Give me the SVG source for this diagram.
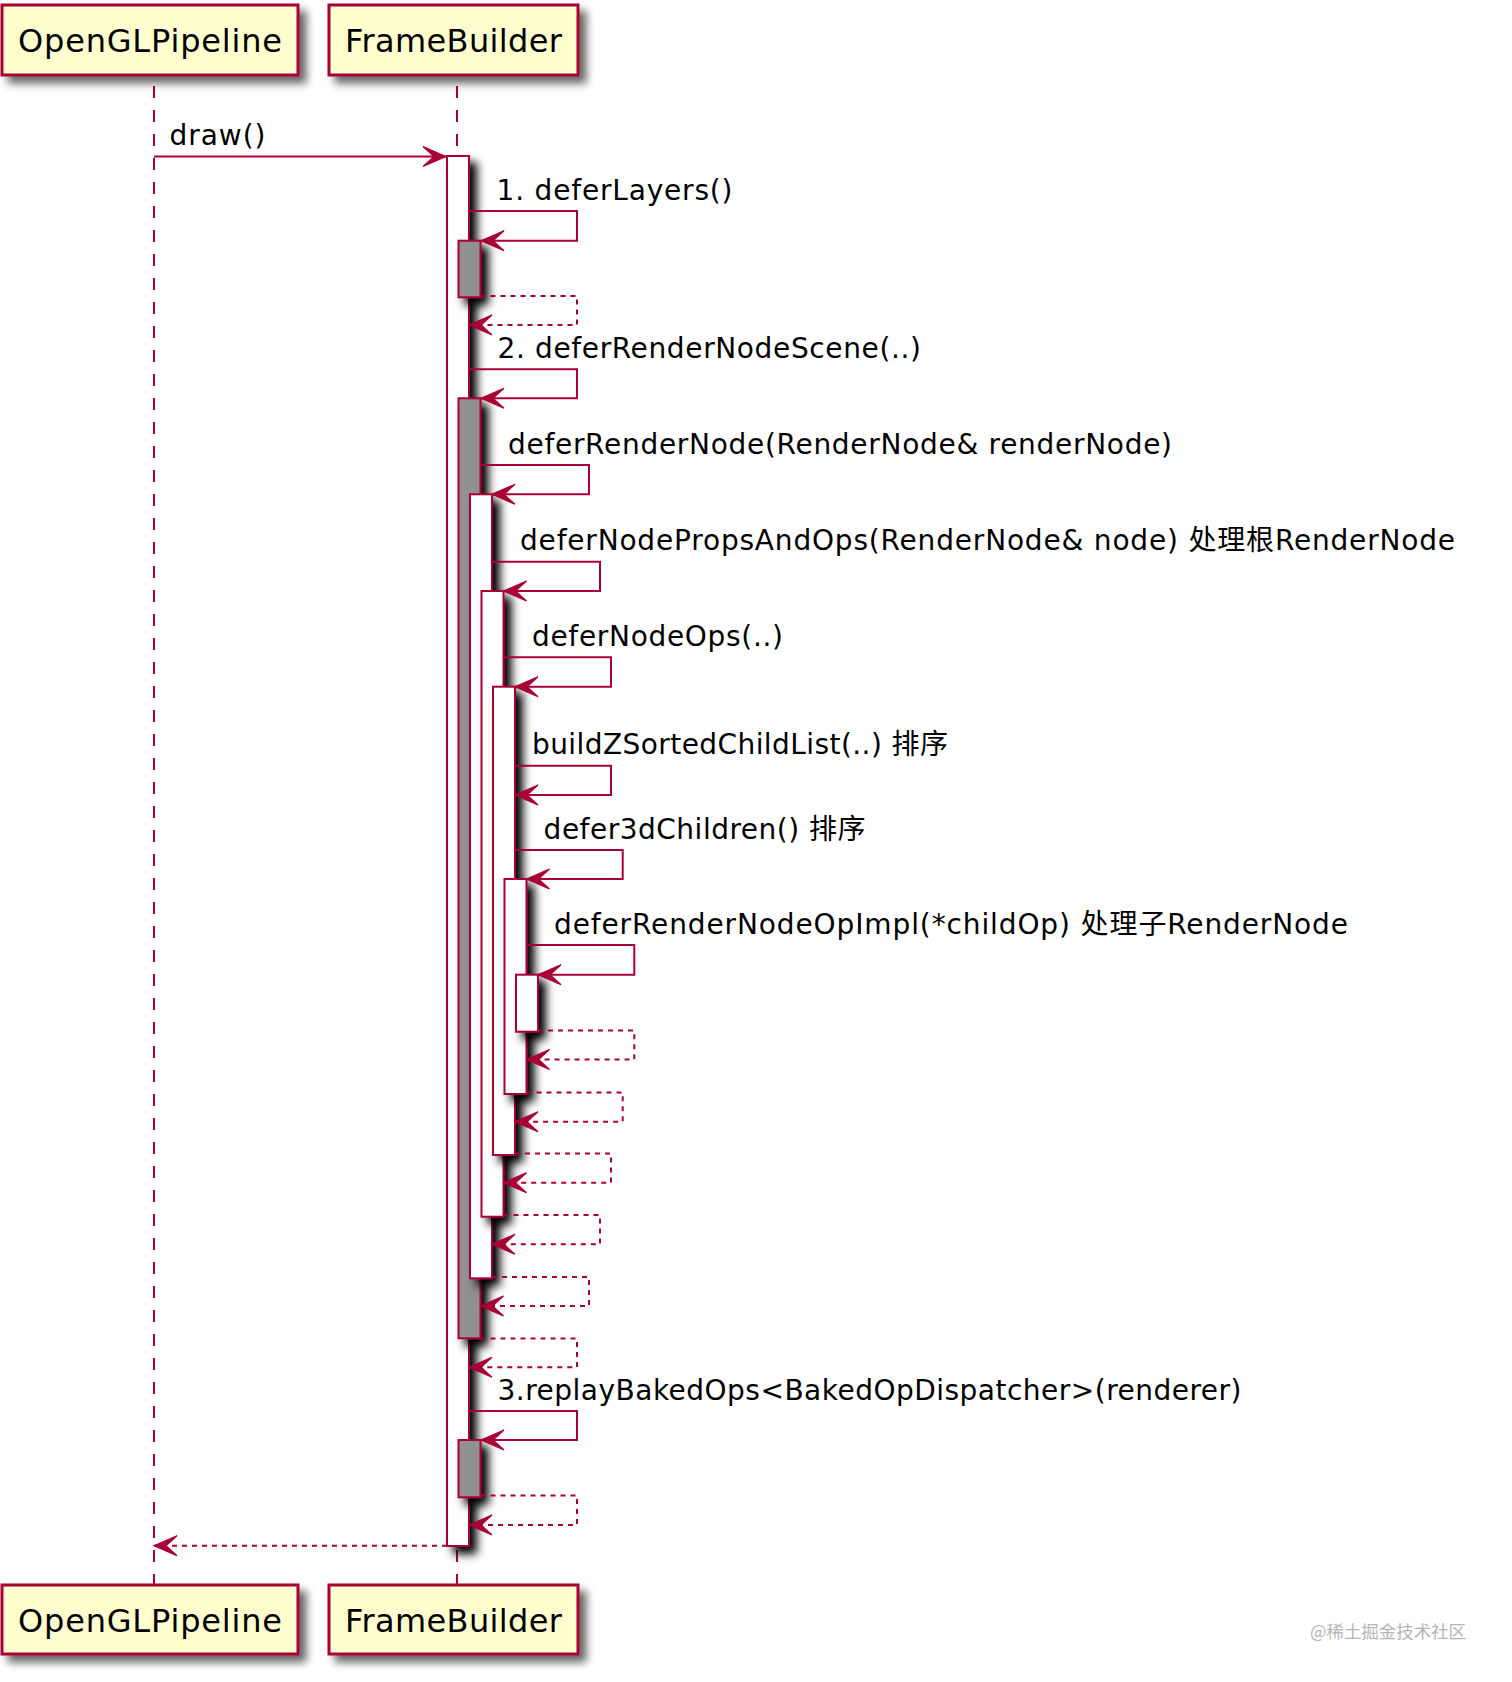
<svg xmlns="http://www.w3.org/2000/svg" width="1512" height="1682" viewBox="0 0 1512 1682">
<style>
.part{fill:#FEFECE;stroke:#A80036;stroke-width:3}
.ptxt{font-family:"DejaVu Sans","Noto Sans CJK SC",sans-serif;font-size:32px;fill:#000;text-anchor:middle}
.life{stroke:#A80036;stroke-width:2;stroke-dasharray:12,12;fill:none}
.act{fill:#FFFFFF;stroke:#A80036;stroke-width:2}
.actg{fill:#919191;stroke:#A80036;stroke-width:2}
.msg{fill:none;stroke:#A80036;stroke-width:2}
.ret{fill:none;stroke:#A80036;stroke-width:2;stroke-dasharray:5,5}
.mtxt{font-family:"DejaVu Sans","Noto Sans CJK SC",sans-serif;font-size:28px;fill:#000}
.wm{font-family:"Noto Sans CJK SC",sans-serif;font-size:17.5px;fill:#b5b5b5}
</style>
<defs>
<filter id="sh" x="-50%" y="-30%" width="300%" height="170%">
<feGaussianBlur in="SourceAlpha" stdDeviation="5"/>
<feOffset dx="7" dy="7" result="b"/>
<feComponentTransfer><feFuncA type="linear" slope="1"/></feComponentTransfer>
<feMerge><feMergeNode/><feMergeNode in="SourceGraphic"/></feMerge>
</filter>
<filter id="shp" x="-20%" y="-30%" width="150%" height="170%">
<feGaussianBlur in="SourceAlpha" stdDeviation="4"/>
<feOffset dx="7" dy="7" result="b"/>
<feComponentTransfer><feFuncA type="linear" slope="0.6"/></feComponentTransfer>
<feMerge><feMergeNode/><feMergeNode in="SourceGraphic"/></feMerge>
</filter>
<marker id="ah" markerUnits="userSpaceOnUse" viewBox="-25 -12 27 24" refX="0" refY="0" markerWidth="27" markerHeight="24" orient="auto">
<path d="M0,0 L-23,-10 L-12,0 L-23,10 Z" fill="#A80036" stroke="#A80036" stroke-width="1.2"/>
</marker>
</defs>
<rect width="1512" height="1682" fill="#FFFFFF"/>

<g id="lifelines">
<line class="life" x1="154" y1="86" x2="154" y2="1584"/>
<line class="life" x1="457" y1="86" x2="457" y2="1584"/>
</g>

<g id="OpenGLPipeline">
<rect class="part" x="2" y="5" width="296" height="70" filter="url(#shp)"/>
<text class="ptxt" x="150" y="52" textLength="264">OpenGLPipeline</text>
<rect class="part" x="2" y="1585" width="296" height="69" filter="url(#shp)"/>
<text class="ptxt" x="150" y="1631.5" textLength="264">OpenGLPipeline</text>
</g>

<g id="FrameBuilder">
<rect class="part" x="329" y="5" width="249" height="70" filter="url(#shp)"/>
<text class="ptxt" x="453.5" y="52" textLength="217">FrameBuilder</text>
<rect class="part" x="329" y="1585" width="249" height="69" filter="url(#shp)"/>
<text class="ptxt" x="453.5" y="1631.5" textLength="217">FrameBuilder</text>
</g>

<g id="activations">
<rect class="act" x="447" y="156" width="22" height="1390" filter="url(#sh)"/>
<rect class="actg" x="458.5" y="240.7" width="22" height="56.6" filter="url(#sh)"/>
<rect class="actg" x="458.5" y="398.3" width="22" height="940" filter="url(#sh)"/>
<rect class="act" x="470" y="494.3" width="22" height="784" filter="url(#sh)"/>
<rect class="act" x="481.5" y="591" width="22" height="625.7" filter="url(#sh)"/>
<rect class="act" x="493" y="686.7" width="22" height="468.3" filter="url(#sh)"/>
<rect class="act" x="504.5" y="879" width="22" height="215" filter="url(#sh)"/>
<rect class="act" x="516" y="974.7" width="22" height="57" filter="url(#sh)"/>
<rect class="actg" x="458.5" y="1440" width="22" height="57.3" filter="url(#sh)"/>
</g>

<g id="connectors">
<path class="msg" d="M154,156.5 H446" marker-end="url(#ah)"/>
<path class="msg" d="M469,211 H577 V240.7 H481" marker-end="url(#ah)"/>
<path class="ret" d="M480.5,296 H577 V325 H469" marker-end="url(#ah)"/>
<path class="msg" d="M469,369.3 H577 V398.3 H481" marker-end="url(#ah)"/>
<path class="msg" d="M480.5,465 H589 V494.3 H492" marker-end="url(#ah)"/>
<path class="msg" d="M492,561.7 H600 V591 H503.5" marker-end="url(#ah)"/>
<path class="msg" d="M503.5,657.3 H611 V686.7 H515" marker-end="url(#ah)"/>
<path class="msg" d="M515,765.7 H611 V795 H515" marker-end="url(#ah)"/>
<path class="msg" d="M515,850 H622.7 V879 H526.5" marker-end="url(#ah)"/>
<path class="msg" d="M526.5,945 H634.3 V974.7 H538" marker-end="url(#ah)"/>
<path class="ret" d="M538,1030.5 H634.3 V1059.5 H526.5" marker-end="url(#ah)"/>
<path class="ret" d="M526.5,1092.5 H622.7 V1121.7 H515" marker-end="url(#ah)"/>
<path class="ret" d="M515,1153.5 H611 V1182.7 H503.5" marker-end="url(#ah)"/>
<path class="ret" d="M503.5,1215 H600 V1244.3 H492" marker-end="url(#ah)"/>
<path class="ret" d="M492,1277 H589 V1306 H480.5" marker-end="url(#ah)"/>
<path class="ret" d="M480.5,1338.5 H577 V1367.3 H469" marker-end="url(#ah)"/>
<path class="msg" d="M469,1411 H577 V1440 H481" marker-end="url(#ah)"/>
<path class="ret" d="M480.5,1495.5 H577 V1525 H469" marker-end="url(#ah)"/>
<path class="ret" d="M447,1545.7 H154" marker-end="url(#ah)"/>
</g>

<g id="labels">
<text class="mtxt" x="169.5" y="145" textLength="96">draw()</text>
<text class="mtxt" x="496.5" y="200" textLength="236">1. deferLayers()</text>
<text class="mtxt" x="497.5" y="358.3" textLength="423.5">2. deferRenderNodeScene(..)</text>
<text class="mtxt" x="508" y="453.5" textLength="664">deferRenderNode(RenderNode&amp; renderNode)</text>
<text class="mtxt" x="520" y="550" textLength="935">deferNodePropsAndOps(RenderNode&amp; node) 处理根RenderNode</text>
<text class="mtxt" x="532" y="646" textLength="251">deferNodeOps(..)</text>
<text class="mtxt" x="532" y="754" textLength="416">buildZSortedChildList(..) 排序</text>
<text class="mtxt" x="543.6" y="838.5" textLength="322">defer3dChildren() 排序</text>
<text class="mtxt" x="554" y="933.5" textLength="794">deferRenderNodeOpImpl(*childOp) 处理子RenderNode</text>
<text class="mtxt" x="497.5" y="1400" textLength="744">3.replayBakedOps&lt;BakedOpDispatcher&gt;(renderer)</text>
</g>

<text class="wm" x="1310" y="1638" textLength="156">@稀土掘金技术社区</text>
</svg>
